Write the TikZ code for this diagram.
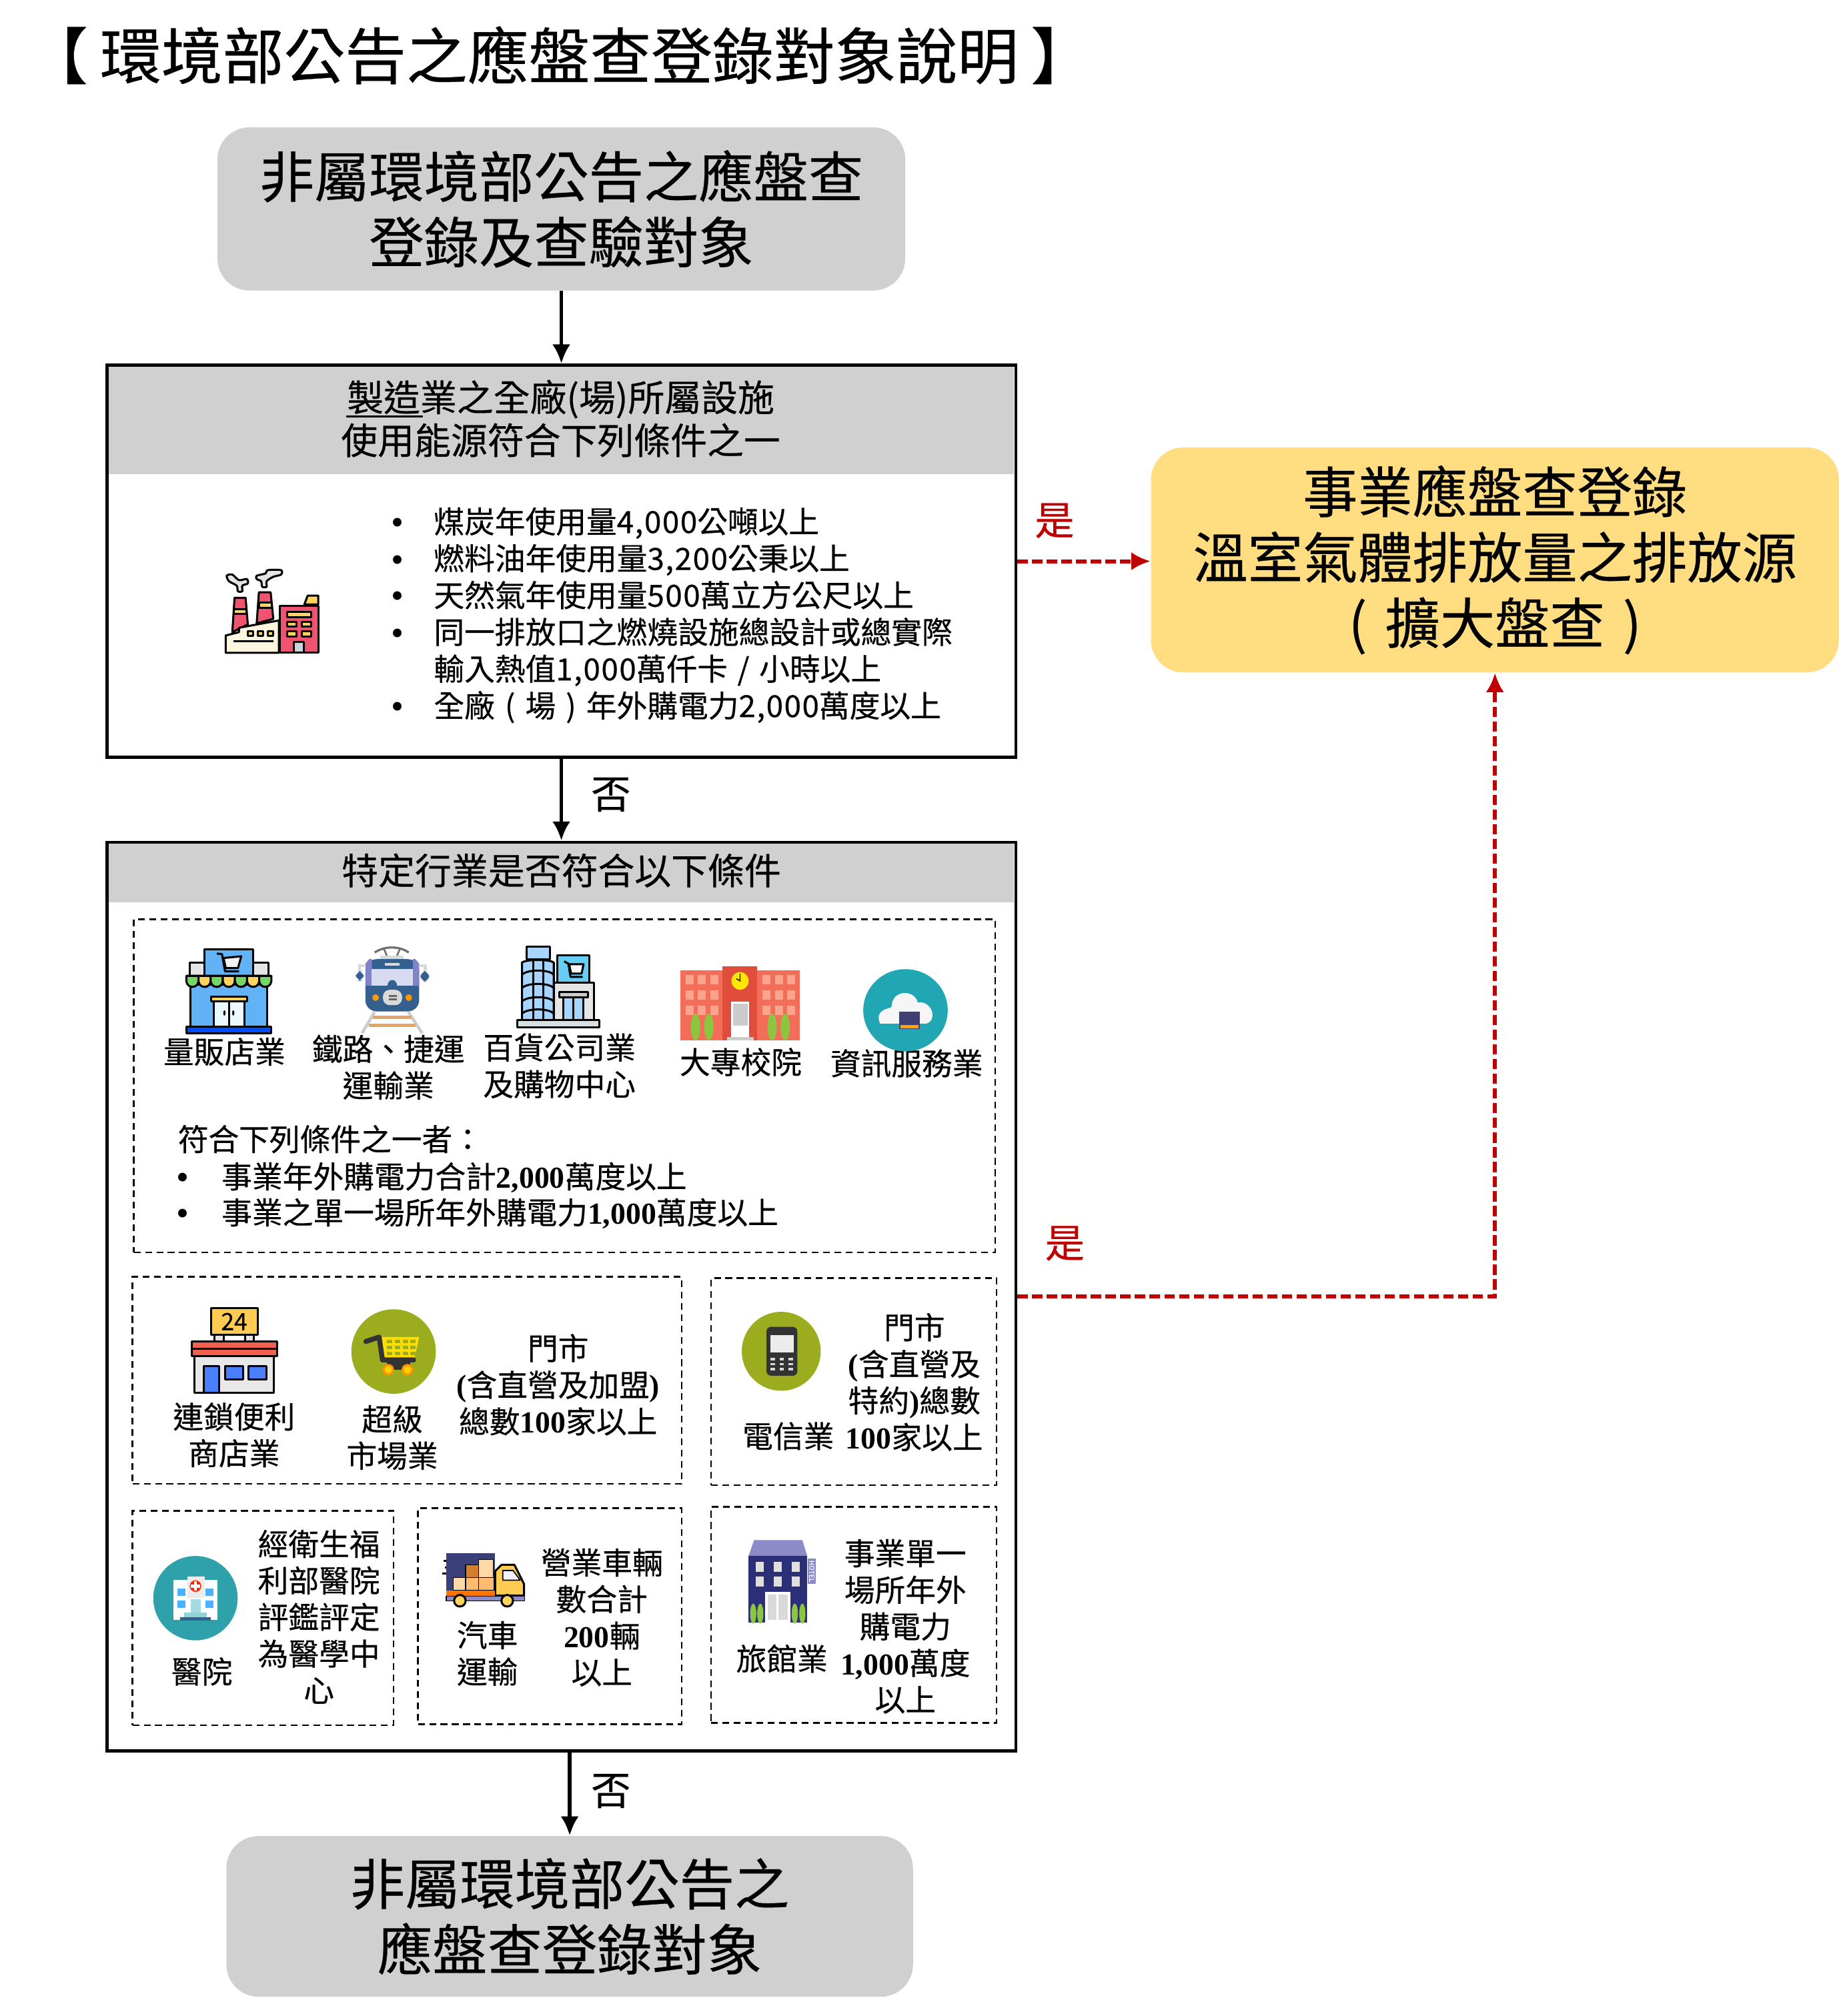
\documentclass[tikz,border=0pt]{standalone}
\usepackage{fontspec}
\usepackage{xcolor}
\usetikzlibrary{arrows.meta}
\setmainfont{Noto Sans CJK TC}[FakeBold=0.4]
\newfontfamily\numfont{Liberation Serif}

\definecolor{boxgray}{HTML}{D0D0D0}
\definecolor{boxyellow}{HTML}{FFDD80}
\definecolor{yesred}{HTML}{C00000}
\definecolor{iconred}{HTML}{EE5470}
\definecolor{iconyellow}{HTML}{FFD45C}
\definecolor{iconcream}{HTML}{FFF6DF}
\definecolor{iconblue}{HTML}{62B3F6}
\definecolor{iconnavy}{HTML}{33608F}
\definecolor{icongreen}{HTML}{76D665}
\definecolor{icontree}{HTML}{8CC63F}
\definecolor{iconolive}{HTML}{9BAD1E}
\definecolor{iconteal}{HTML}{21A7B3}
\definecolor{iconhotel}{HTML}{2A2F78}
\definecolor{iconroof}{HTML}{8C8BC7}
\definecolor{glassblue}{HTML}{A6D5FF}
\definecolor{schoolwing}{HTML}{F46D58}
\definecolor{schoolmid}{HTML}{E04E3B}
\definecolor{schoolpane}{HTML}{F9A58D}
\definecolor{signroof}{HTML}{F4604F}
\definecolor{signblue}{HTML}{4A80FF}

\tikzset{
	roundbox/.style={rounded corners=0.5cm,inner sep=0pt,align=center},
	framebox/.style={draw=black,line width=1.4pt,inner sep=0pt},
	headbar/.style={fill=boxgray,inner sep=0pt},
	dashbox/.style={draw=black,line width=0.7pt,dash pattern=on 3pt off 2pt,inner sep=0pt},
	bigtext/.style={font=\fontsize{24.3}{29}\selectfont},
	headtext/.style={inner sep=0pt,align=center,font=\fontsize{16.2}{19}\selectfont},
	lbl/.style={inner sep=0pt,align=center,font=\fontsize{13.5}{16.2}\selectfont},
	lbll/.style={inner sep=0pt,align=left,anchor=west,font=\fontsize{13.5}{16.3}\selectfont},
	bullet/.style={inner sep=0pt,yshift=-1.5pt,font=\fontsize{16}{16}\selectfont\numfont},
	answer/.style={inner sep=0pt,font=\fontsize{17.5}{20}\selectfont},
	flow/.style={line width=1.6pt,-{Latex[length=8.5pt,width=8pt]}},
	yesflow/.style={line width=1.8pt,color=yesred,dash pattern=on 4.5pt off 2pt,-{Latex[length=8.5pt,width=8pt]}},
	icon/.style={draw=black,line width=0.9pt,line join=round},
}
\newcommand{\numb}[1]{{\numfont\bfseries #1}}
\newcommand{\wide}[1]{{\addfontfeature{LetterSpace=3.4}#1}}
\newcommand{\lpar}{\hspace{.33em}(\hspace{.33em}}
\newcommand{\rpar}{\hspace{.33em})\hspace{.33em}}

\begin{document}
\begin{tikzpicture}[x=0.02cm,y=-0.02cm]
	\useasboundingbox (0,0) rectangle (1430,1568);

	\node[inner sep=0pt,font=\fontsize{27.1}{30}\selectfont] (title) at (435,43) {【\hspace{.2em}環境部公告之應盤查登錄對象說明\hspace{.2em}】};

	\node[roundbox,bigtext,fill=boxgray,minimum width=10.7cm,minimum height=2.54cm] (startbox) at (436.5,162.5) {非屬環境部公告之應盤查\\登錄及查驗對象};

	\node[headbar,minimum width=14.08cm,minimum height=1.68cm] (headone) at (436.5,327) {};
	\node[framebox,minimum width=14.14cm,minimum height=6.1cm] (factorybox) at (436.5,436.5) {};
	\node[headtext] (headonetext) at (436,325.5) {製造業之全廠(場)所屬設施\\使用能源符合下列條件之一};
	\draw[line width=0.8pt] (269,324) -- (329,324);

	\node[bullet] (ba) at (309,407) {•};
	\node[bullet] (bb) at (309,436) {•};
	\node[bullet] (bc) at (309,464) {•};
	\node[bullet] (bd) at (309,493) {•};
	\node[bullet] (be) at (309,550) {•};
	\node[lbll] (factorylist) at (337,478.5) {煤炭年使用量\wide{4,000}公噸以上\\燃料油年使用量\wide{3,200}公秉以上\\天然氣年使用量\wide{500}萬立方公尺以上\\同一排放口之燃燒設施總設計或總實際\\輸入熱值\wide{1,000}萬仟卡\hspace{.32em}/\hspace{.32em}小時以上\\全廠\lpar 場\rpar 年外購電力\wide{2,000}萬度以上};

	\node[roundbox,bigtext,fill=boxyellow,minimum width=10.7cm,minimum height=3.5cm] (yesbox) at (1162.5,435.5) {事業應盤查登錄\\溫室氣體排放量之排放源\\(\hspace{.33em}擴大盤查\hspace{.33em})};

	\node[headbar,minimum width=14.08cm,minimum height=0.92cm] (headtwo) at (436.5,679) {};
	\node[framebox,minimum width=14.14cm,minimum height=14.14cm] (tradebox) at (436.5,1008.5) {};
	\node[headtext] (headtwotext) at (436.5,677) {特定行業是否符合以下條件};

	\node[dashbox,minimum width=13.4cm,minimum height=5.18cm] (dasha) at (439,844.5) {};
	\node[dashbox,minimum width=8.54cm,minimum height=3.22cm] (dashb) at (316.5,1073.5) {};
	\node[dashbox,minimum width=4.44cm,minimum height=3.22cm] (dashc) at (664,1074.5) {};
	\node[dashbox,minimum width=4.06cm,minimum height=3.34cm] (dashd) at (204.5,1258.5) {};
	\node[dashbox,minimum width=4.1cm,minimum height=3.36cm] (dashe) at (427.5,1257) {};
	\node[dashbox,minimum width=4.44cm,minimum height=3.36cm] (dashf) at (664,1256) {};

	\node[lbl] (store) at (174.5,818) {量販店業};
	\node[lbl] (rail) at (302,830) {鐵路、捷運\\運輸業};
	\node[lbl] (mall) at (435,829) {百貨公司業\\及購物中心};
	\node[lbl] (school) at (576,826) {大專校院};
	\node[lbl] (cloud) at (705,827) {資訊服務業};
	\node[lbll,anchor=base west] (rulehead) at (138,895) {符合下列條件之一者：};
	\node[bullet] (bf) at (142,916) {•};
	\node[bullet] (bg) at (142,944) {•};
	\node[lbll,anchor=base west] (rulea) at (172,924) {事業年外購電力合計\numb{2,000}萬度以上};
	\node[lbll,anchor=base west] (ruleb) at (172,952) {事業之單一場所年外購電力\numb{1,000}萬度以上};

	\node[lbl] (conv) at (182,1116) {連鎖便利\\商店業};
	\node[lbl] (market) at (305,1118) {超級\\市場業};
	\node[lbl] (shops) at (434,1077) {門市\\\numb{(}含直營及加盟\numb{)}\\總數\numb{100}家以上};
	\node[lbl] (telecom) at (613,1117) {電信業};
	\node[lbl] (telshops) at (711,1075) {門市\\\numb{(}含直營及\\特約\numb{)}總數\\\numb{100}家以上};
	\node[lbl] (hospital) at (157,1300) {醫院};
	\node[lbl] (hosptext) at (248,1257.5) {經衛生福\\利部醫院\\評鑑評定\\為醫學中\\心};
	\node[lbl] (truck) at (379,1286) {汽車\\運輸};
	\node[lbl] (trucktext) at (468,1258) {營業車輛\\數合計\\\numb{200}輛\\以上};
	\node[lbl] (hotel) at (608,1290) {旅館業};
	\node[lbl] (hoteltext) at (704,1265) {事業單一\\場所年外\\購電力\\\numb{1,000}萬度\\以上};

	\node[roundbox,bigtext,fill=boxgray,minimum width=10.68cm,minimum height=2.5cm] (endbox) at (443,1490.5) {非屬環境部公告之\\應盤查登錄對象};

	\draw[flow] (startbox.south) -- (factorybox.north);
	\draw[flow] (factorybox.south) -- (tradebox.north);
	\draw[flow] (tradebox.south -| endbox.north) -- (endbox.north);
	\draw[yesflow] (factorybox.east) -- (factorybox.east -| yesbox.west);
	\draw[yesflow] (tradebox.east) -| (yesbox.south);

	\node[answer] (noa) at (475,618) {否};
	\node[answer] (nob) at (475,1393) {否};
	\node[answer,text=yesred] (yesa) at (820,405) {是};
	\node[answer,text=yesred] (yesb) at (828,967) {是};

	% factory
	\begin{scope}[shift={(166,435.7)},scale=0.1723]
		\filldraw[icon,fill=iconred] (95,170) -- (145,170) -- (155,290) -- (85,325) -- cycle;
		\filldraw[icon,fill=iconred] (205,145) -- (258,145) -- (270,265) -- (195,285) -- cycle;
		\filldraw[icon,fill=iconyellow] (91,220) rectangle (149,243);
		\filldraw[icon,fill=iconyellow] (207,190) rectangle (262,215);
		\filldraw[icon,fill=iconcream] (55,340) -- (115,325) -- (115,305) -- (295,272) -- (295,418) -- (55,418) -- cycle;
		\filldraw[icon,fill=iconred] (300,205) rectangle (473,418);
		\filldraw[icon,fill=iconyellow] (410,200) -- (425,160) -- (473,160) -- (473,200) -- cycle;
		\filldraw[icon,fill=iconyellow] (333,232) rectangle (440,256);
		\filldraw[icon,fill=iconyellow] (333,278) rectangle (375,300);
		\filldraw[icon,fill=iconyellow] (398,278) rectangle (440,300);
		\filldraw[icon,fill=iconyellow] (333,322) rectangle (375,345);
		\filldraw[icon,fill=iconyellow] (398,322) rectangle (440,345);
		\filldraw[icon,fill=cyan!20!gray!40] (362,370) rectangle (408,418);
		\filldraw[icon,fill=iconyellow] (155,320) rectangle (180,342);
		\filldraw[icon,fill=iconyellow] (200,320) rectangle (225,342);
		\filldraw[icon,fill=iconyellow] (245,320) rectangle (270,342);
		\draw[icon] (90,365) -- (270,365);
		\filldraw[icon,fill=blue!8!gray!20] plot[smooth cycle] coordinates {(60,70) (85,65) (115,90) (150,85) (155,105) (130,115) (130,140) (110,140) (105,115) (70,95)};
		\filldraw[icon,fill=blue!8!gray!20] plot[smooth cycle] coordinates {(195,70) (235,60) (245,45) (305,45) (305,65) (270,75) (240,95) (240,120) (220,120) (215,95) (195,85)};
	\end{scope}

	% store
	\begin{scope}[shift={(134.9,731.3)},scale=0.1729]
		\filldraw[icon,fill=iconblue] (140,40) rectangle (358,160);
		\filldraw[icon,fill=gray!20] (72,102) rectangle (140,160);
		\filldraw[icon,fill=gray!20] (358,102) rectangle (426,160);
		\draw[icon,fill=gray!10] (225,80) -- (305,72) -- (290,125) -- (235,125) -- cycle;
		\draw[icon] (195,60) -- (218,62) -- (232,140) -- (295,140);
		\filldraw[icon,fill=iconblue] (75,200) rectangle (422,390);
		\foreach \x/\col in {58/icongreen,112.6/iconyellow,167.2/icongreen,221.8/iconyellow,276.4/icongreen,331/iconyellow,385.6/icongreen}
			\filldraw[icon,fill=\col] (\x,160) -- (\x+54.6,160) -- (\x+54.6,185) .. controls (\x+50,218) and (\x+5,218) .. (\x,185) -- cycle;
		\filldraw[icon,fill=cyan!8] (180,270) rectangle (320,390);
		\draw[icon] (250,270) -- (250,390);
		\fill (229,327) ellipse (5 and 12);
		\fill (269,327) ellipse (5 and 12);
		\filldraw[icon,fill=iconyellow] (168,255) rectangle (330,275);
		\filldraw[icon,fill=blue!70!cyan] (58,388) rectangle (440,418);
	\end{scope}

	% train
	\begin{scope}[shift={(134.9,731.3)},scale=0.1729]
		\draw[line width=1.3pt,gray!30] (860,115) -- (836,115) -- (836,135);
		\draw[line width=1.3pt,gray!30] (1108,115) -- (1132,115) -- (1132,135);
		\draw[line width=1pt,gray!90!black] (905,55) .. controls (950,25) and (1015,25) .. (1058,55);
		\draw[line width=0.8pt,gray!90!black] (945,35) -- (960,70) (1020,35) -- (1005,70);
		\fill[gray!30] (930,68) rectangle (1034,90);
		\fill[iconnavy,rounded corners=3pt] (820,138) rectangle (856,182);
		\fill[iconnavy,rounded corners=3pt] (1111,138) rectangle (1150,187);
		\draw[line width=1.3pt,gray!40] (905,322) -- (848,418);
		\draw[line width=1.3pt,gray!40] (1056,322) -- (1118,418);
		\fill[brown!60!orange!70] (898,340) rectangle (1072,354);
		\fill[brown!60!orange!70] (878,376) rectangle (1090,390);
		\fill[iconnavy,rounded corners=5pt] (863,85) rectangle (1105,320);
		\fill[blue!40!gray!70] (863,205) -- (863,105) -- (880,85) -- (892,85) -- (892,205) -- cycle;
		\fill[blue!40!gray!70] (1105,205) -- (1105,105) -- (1088,85) -- (1077,85) -- (1077,205) -- cycle;
		\fill[cyan!30!blue!15] (892,130) rectangle (1077,205);
		\fill[iconnavy] (962,205) .. controls (965,170) and (1003,170) .. (1006,205) -- cycle;
		\fill[gray!30] (950,103) rectangle (1018,113);
		\fill[gray!30,rounded corners=3pt] (942,223) rectangle (1028,292);
		\fill[gray!80!black] (968,245) rectangle (1004,254);
		\fill[gray!80!black] (968,262) rectangle (1004,271);
		\fill[orange!80!yellow] (909,258) circle (15);
		\fill[orange!80!yellow] (1058,258) circle (15);
	\end{scope}

	% mall
	\begin{scope}[shift={(394.2,731.3)},xscale=0.2249,yscale=0.1729]
		\filldraw[icon,fill=glassblue] (68,30) rectangle (148,85);
		\filldraw[icon,fill=glassblue] (52,100) .. controls (70,85) and (145,85) .. (162,100) -- (162,360) -- (52,360) -- cycle;
		\draw[icon] (90,88) -- (90,360) (125,88) -- (125,360);
		\foreach \y in {155,215,275,330}
			\draw[icon] (52,\y) .. controls (70,\y-25) and (145,\y-25) .. (162,\y);
		\filldraw[icon,fill=cyan!60] (175,68) rectangle (285,190);
		\draw[icon] (198,95) -- (212,105) -- (220,165) -- (262,165);
		\draw[icon,fill=white] (215,108) -- (265,108) -- (258,150) -- (222,150) -- cycle;
		\filldraw[icon,fill=gray!20] (162,192) rectangle (300,360);
		\filldraw[icon,fill=glassblue] (195,258) rectangle (265,360);
		\draw[icon] (230,258) -- (230,360);
		\filldraw[icon,fill=gray!40] (182,232) rectangle (280,258);
		\filldraw[icon,fill=cyan!20!gray!30] (35,360) rectangle (320,392);
	\end{scope}

	% school
	\begin{scope}[shift={(394.2,731.3)},xscale=0.2249,yscale=0.1729]
		\fill[schoolwing] (600,135) rectangle (1012,450);
		\fill[schoolmid] (746,118) rectangle (866,450);
		\foreach \x in {617,660,703,883,926,969}
			\foreach \y in {157,225,293}
				\fill[schoolpane] (\x,\y) rectangle (\x+28,\y+42);
		\fill[yellow!90!orange] (806,183) ellipse (30 and 40);
		\draw[line width=0.4pt] (806,150) -- (806,183) -- (793,173);
		\fill[white] (775,275) rectangle (838,435);
		\fill[gray!40] (782,285) rectangle (832,385);
		\fill[gray!40] (760,435) rectangle (853,450);
		\foreach \x in {652,698,917,962}
			\fill[icontree] (\x,390) ellipse (16 and 60);
	\end{scope}

	% cloud
	\begin{scope}[shift={(394.2,731.3)},xscale=0.2249,yscale=0.1729]
		\fill[iconteal] (1378,315) ellipse (146 and 185);
		\fill[gray!7] (1290,375) .. controls (1270,310) and (1320,310) .. (1330,300) .. controls (1330,220) and (1410,220) .. (1420,280) .. controls (1470,270) and (1490,360) .. (1450,375) -- cycle;
		\fill[black!60!blue!50!gray] (1355,320) rectangle (1427,400);
		\fill[orange!70!yellow] (1360,380) rectangle (1423,395);
	\end{scope}

	% convenience store
	\begin{scope}[shift={(134.9,1011.4)},scale=0.1729]
		\filldraw[icon,fill=gray!20] (185,155) rectangle (225,185);
		\filldraw[icon,fill=gray!20] (322,155) rectangle (360,185);
		\filldraw[icon,fill=iconyellow!90!orange] (168,35) rectangle (378,155);
		\node[inner sep=0pt,font=\fontsize{10.5}{12}\selectfont] (sign) at (273,95) {24};
		\filldraw[icon,fill=gray!18] (95,250) rectangle (450,415);
		\filldraw[icon,fill=signroof] (82,185) rectangle (465,250);
		\draw[icon] (82,217) -- (465,217);
		\filldraw[icon,fill=signblue] (135,295) rectangle (205,415);
		\filldraw[icon,fill=signblue] (232,295) rectangle (313,355);
		\filldraw[icon,fill=signblue] (338,295) rectangle (418,355);
	\end{scope}

	% cart
	\begin{scope}[shift={(134.9,1011.4)},scale=0.1729]
		\fill[iconolive] (990,230) circle (190);
		\fill[yellow!80!orange] (930,165) -- (1105,165) -- (1085,255) -- (945,255) -- cycle;
		\foreach \x in {975,1010,1045,1080}
			\foreach \y in {178,205,232}
				\fill[iconolive] (\x-14,\y) rectangle (\x+10,\y+15);
		\draw[line width=2.2pt,black!80,line cap=round,line join=round] (865,185) -- (925,165) -- (940,268) -- (1080,268);
		\fill[black!80] (960,270) rectangle (1065,312);
		\fill[orange!85!yellow] (966,312) circle (26);
		\fill[orange!85!yellow] (1052,312) circle (26);
		\fill[yellow!70!orange] (966,312) circle (17);
		\fill[yellow!70!orange] (1052,312) circle (17);
	\end{scope}

	% phone
	\fill[iconolive] (607.5,1051) circle (30.7);
	\fill[black!80,rounded corners=2pt] (596,1032) rectangle (620,1070);
	\fill[gray!15] (599,1038.5) rectangle (617,1052);
	\foreach \x in {601,608,615}
		\foreach \y in {1056,1060,1064}
			\fill[gray!30] (\x-1.7,\y) rectangle (\x+1.7,\y+2);

	% hospital
	\fill[iconteal!85!gray] (152,1243) circle (32.8);
	\fill[white] (134.7,1229) rectangle (169,1260);
	\fill[gray!15] (146,1226) rectangle (159,1243);
	\fill[red!70!orange] (152,1233.6) circle (4.5);
	\fill[white] (150.8,1230) rectangle (153.2,1237);
	\fill[white] (148.5,1232.5) rectangle (155.5,1234.8);
	\fill[blue!45!cyan!70] (138,1235.4) rectangle (144.4,1241);
	\fill[blue!45!cyan!70] (160,1235.4) rectangle (166,1241);
	\fill[blue!45!cyan!70] (138,1245) rectangle (144.4,1250.4);
	\fill[blue!45!cyan!70] (160,1245) rectangle (166,1250.4);
	\fill[iconteal!40] (148.5,1244) rectangle (156,1254);
	\fill[iconteal!50] (143,1254) rectangle (161,1258);
	\fill[iconnavy] (140,1258) rectangle (164,1260.5);

	% truck
	\draw[line width=0.8pt] (345,1214) -- (351,1214) (346,1219) -- (351,1219) (344,1224) -- (351,1224);
	\fill[iconhotel!80!gray] (347,1208) rectangle (385,1237);
	\filldraw[icon,line width=0.4pt,fill=brown!70!orange] (362,1217) rectangle (372,1227);
	\filldraw[icon,line width=0.4pt,fill=orange!25!iconcream] (372,1213) rectangle (383.4,1227);
	\filldraw[icon,line width=0.4pt,fill=orange!25!iconcream] (352.5,1227) rectangle (362,1237);
	\filldraw[icon,line width=0.4pt,fill=orange!50!iconcream] (362,1227) rectangle (372,1237);
	\filldraw[icon,line width=0.4pt,fill=orange!50!iconcream] (372,1227) rectangle (384,1237);
	\filldraw[icon,fill=iconyellow!90!orange] (385,1222) -- (390,1217) -- (400,1217) -- (407.5,1232) -- (407.5,1241) -- (385,1241) -- cycle;
	\filldraw[icon,line width=0.5pt,fill=blue!5] (391,1221.5) -- (399,1221.5) -- (404.5,1229) -- (391,1229) -- cycle;
	\fill[orange!90!red] (347,1237) rectangle (385,1241.4);
	\filldraw[icon,line width=0.4pt,fill=iconroof] (347,1241.4) rectangle (408,1245);
	\filldraw[icon,fill=iconyellow] (357.6,1245) circle (4.5);
	\filldraw[icon,fill=iconyellow] (394.4,1245) circle (4.5);

	% hotel
	\fill[iconroof] (586.4,1197.8) -- (623.9,1197.8) -- (627.7,1210.3) -- (582,1210.3) -- cycle;
	\fill[iconhotel] (582,1210.3) rectangle (627.7,1262.2);
	\foreach \x in {587.8,601.5,615.6}
		\foreach \y in {1214.6,1226.4}
			\fill[gray!25] (\x,\y) rectangle (\x+6.2,\y+7.7);
	\fill[white] (595,1238.3) rectangle (614.6,1262);
	\fill[gray!30] (597,1240) rectangle (604,1260);
	\fill[gray!30] (605.5,1240) rectangle (612.6,1260);
	\foreach \x in {585.7,591.2,618,623.9}
		\fill[icontree] (\x,1255) ellipse (2.4 and 7.8);
	\fill[iconroof] (628.3,1212.4) rectangle (634.2,1232);
	\node[inner sep=0pt,rotate=-90,text=white,font=\fontsize{3}{3}\selectfont] (hotelsign) at (631.2,1222) {HOTEL};
\end{tikzpicture}
\end{document}
